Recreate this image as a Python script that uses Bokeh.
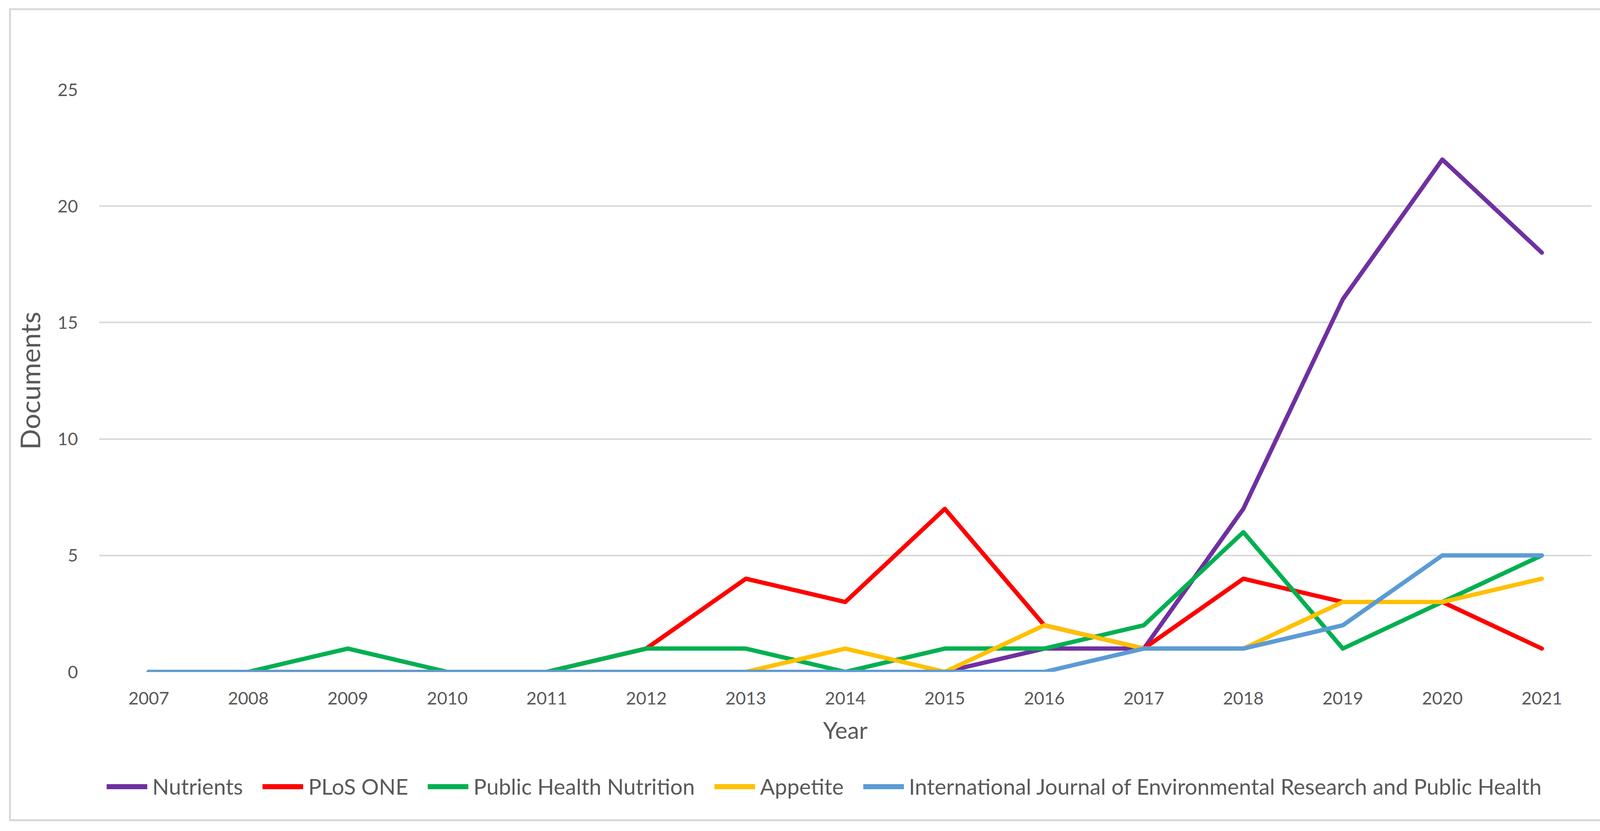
from bokeh.plotting import figure
from bokeh.models import FixedTicker, Legend, LegendItem, Range1d
from bokeh.layouts import column
from bokeh.embed import file_html
from bokeh.resources import INLINE

years = [2007, 2008, 2009, 2010, 2011, 2012, 2013, 2014, 2015, 2016, 2017, 2018, 2019, 2020, 2021]
nutrients = [0, 0, 0, 0, 0, 0, 0, 0, 0, 1, 1, 7, 16, 22, 18]
plos_one = [0, 0, 0, 0, 0, 1, 4, 3, 7, 2, 1, 4, 3, 3, 1]
public_health_nutrition = [0, 0, 1, 0, 0, 1, 1, 0, 1, 1, 2, 6, 1, 3, 5]
appetite = [0, 0, 0, 0, 0, 0, 0, 1, 0, 2, 1, 1, 3, 3, 4]
ijerph = [0, 0, 0, 0, 0, 0, 0, 0, 0, 0, 1, 1, 2, 5, 5]
y_ticks = [0, 5, 10, 15, 20, 25]

series_names = ["Nutrients", "PLoS ONE", "Public Health Nutrition", "Appetite",
                "International Journal of Environmental Research and Public Health"]
series_values = [nutrients, plos_one, public_health_nutrition, appetite, ijerph]
series_colors = ["#7030A0", "#FF0000", "#00B050", "#FFC000", "#5B9BD5"]

FONT = "Lato"
TEXT = "#595959"
LW = 11

p = figure(frame_width=3821, frame_height=1491, output_backend="svg", toolbar_location=None,
           x_range=Range1d(2006.5, 2021.5), y_range=Range1d(0, 25),
           min_border_left=225, min_border_right=139, min_border_top=203, min_border_bottom=215)
p.outline_line_color = None
p.background_fill_color = "white"
p.border_fill_color = "white"

p.xaxis.ticker = FixedTicker(ticks=years)
p.yaxis.ticker = FixedTicker(ticks=y_ticks)
p.xgrid.grid_line_color = None
p.ygrid.grid_line_color = "#d9d9d9"
p.ygrid.grid_line_width = 4

for ax in (p.xaxis[0], p.yaxis[0]):
    ax.axis_line_color = None
    ax.major_tick_line_color = None
    ax.minor_tick_line_color = None
    ax.major_label_text_font = FONT
    ax.major_label_text_color = TEXT
    ax.major_label_text_font_size = "45px"
    ax.axis_label_text_font = FONT
    ax.axis_label_text_color = TEXT
    ax.axis_label_text_font_style = "normal"

p.xaxis.axis_label = "Year"
p.xaxis.axis_label_text_font_size = "60px"
p.xaxis.major_label_standoff = 45
p.xaxis.axis_label_standoff = 26
p.yaxis.axis_label = "Documents"
p.yaxis.axis_label_text_font_size = "70px"
p.yaxis.major_label_standoff = 48
p.yaxis.axis_label_standoff = 26

for name, vals, col in zip(series_names, series_values, series_colors):
    p.line(years, vals, line_color=col, line_width=LW, line_cap="round", line_join="round")

# legend strip below the chart (its own small figure, so the legend is not clipped)
p2 = figure(width=4185, height=163, output_backend="svg", toolbar_location=None,
            x_range=Range1d(0, 1), y_range=Range1d(0, 1),
            x_axis_location=None, y_axis_location=None, min_border=0)
p2.outline_line_color = None
p2.grid.grid_line_color = None
p2.background_fill_color = "white"
p2.border_fill_color = "white"

items = []
for name, vals, col in zip(series_names, series_values, series_colors):
    # same series, drawn outside this strip's visible range; used only for legend swatches
    r = p2.line(years, vals, line_color=col, line_width=13, line_cap="round")
    items.append(LegendItem(label=name, renderers=[r]))

legend = Legend(items=items, orientation="horizontal", location=(20, 51),
                label_text_font=FONT, label_text_font_size="56px", label_text_color=TEXT,
                glyph_width=104, glyph_height=40, label_standoff=13, spacing=50,
                border_line_color=None, background_fill_alpha=0, margin=0, padding=10)
p2.add_layout(legend, "center")

layout = column(p, p2, spacing=0, margin=(26, 0, 0, 28),
                styles={"outline": "5px solid #d9d9d9"})

open("out.html", "w").write(file_html(layout, INLINE))
